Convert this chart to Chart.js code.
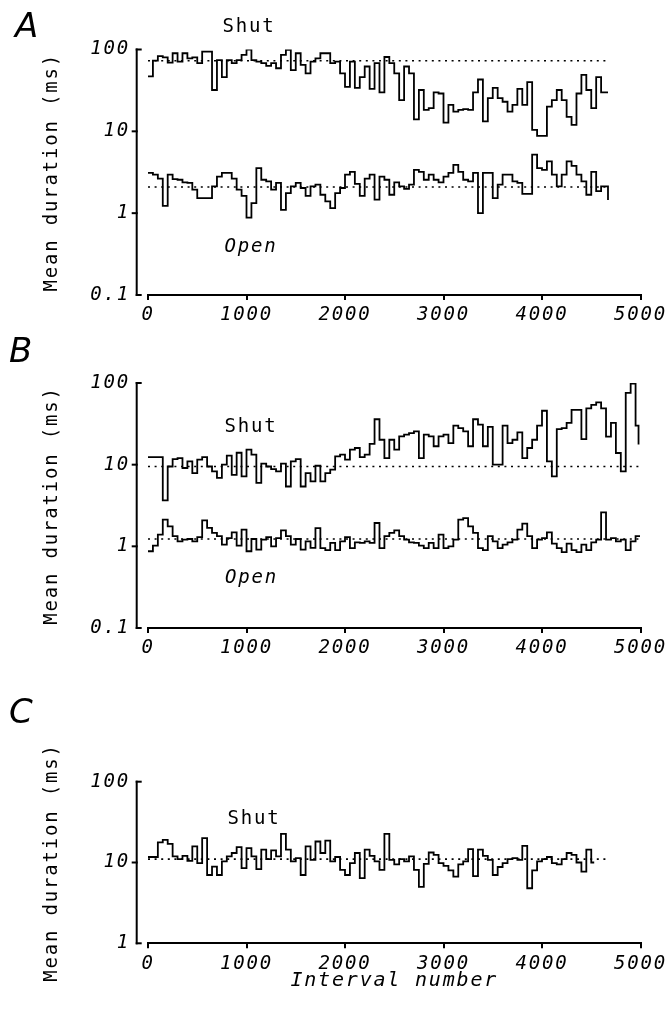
<!DOCTYPE html>
<html><head><meta charset="utf-8">
<script src="https://cdn.jsdelivr.net/npm/chart.js@4"></script>
<style>
html,body{margin:0;padding:0;background:#fff;}
#wrap{position:relative;width:671px;height:1016px;overflow:hidden;background:#fff;}
.panel{position:absolute;left:0;width:671px;}
</style></head><body>
<div id="wrap">
  <div class="panel" style="top:0;height:335px"><canvas id="cA"></canvas></div>
  <div class="panel" style="top:335px;height:335px"><canvas id="cB"></canvas></div>
  <div class="panel" style="top:670px;height:346px"><canvas id="cC"></canvas></div>
</div>
<script>
// ---------------- data ----------------
const BIN = 50;                        // intervals per plotted mean
const xTicks = [0, 1000, 2000, 3000, 4000, 5000];
const yTicksAB = [0.1, 1, 10, 100];
const yTicksC = [1, 10, 100];

// Panel A
const aShut = [47, 73, 83, 80, 69, 90, 71, 90, 78, 80,
  68, 94, 94, 32, 74, 46, 74, 68, 74, 86,
  100, 74, 71, 68, 63, 68, 59, 86, 99, 56,
  90, 65, 51, 71, 78, 90, 90, 68, 71, 51,
  35, 71, 34, 46, 62, 33, 68, 30, 81, 68,
  51, 24, 62, 51, 14, 32, 18.3, 19.2, 30, 29,
  12.8, 21, 17.4, 18.3, 18.7, 18.3, 30, 43, 13.2, 25.4,
  34, 25.4, 23, 17.4, 21, 33, 21, 40, 10.4, 8.8,
  8.8, 20, 24, 32, 24, 15, 12, 29, 49, 32,
  19.2, 46, 30];
const aShutEnd = 4670;
const aOpen = [3.1, 2.95, 2.65, 1.23, 2.95, 2.6, 2.56, 2.38, 2.35, 1.94,
  1.53, 1.53, 1.53, 2.13, 2.8, 3.1, 3.1, 2.65, 1.94, 1.63,
  0.88, 1.33, 3.56, 2.56, 2.45, 1.94, 2.35, 1.1, 1.76, 2.13,
  2.35, 2.03, 1.63, 2.13, 2.23, 1.68, 1.39, 1.15, 1.76, 2.03,
  2.95, 3.2, 2.28, 1.63, 2.65, 2.95, 1.46, 2.8, 2.56, 1.68,
  2.38, 2.13, 1.98, 2.23, 3.39, 3.2, 2.56, 2.95, 2.56, 2.38,
  2.8, 3.1, 3.9, 3.2, 2.56, 2.45, 3.1, 1.0, 3.1, 3.1,
  1.53, 2.23, 2.95, 2.95, 2.45, 2.35, 1.72, 1.72, 5.2, 3.56,
  3.39, 4.3, 2.95, 2.13, 2.95, 4.3, 3.78, 2.95, 2.45, 1.68,
  3.2, 1.86, 2.13];
const aOpenEnd = 4670, aOpenLast = 1.45;
const aShutMean = 73, aOpenMean = 2.09;
const aShutMeanEnd = 4650, aOpenMeanEnd = 4670;

// Panel B
const bShut = [12.4, 12.4, 12.4, 3.66, 9.5, 11.7, 12, 9.1, 11, 7.9,
  11.5, 12.4, 9.5, 8.3, 6.9, 10, 12.9, 7.5, 14, 7.2,
  15.3, 13.3, 6, 10.3, 9.5, 8.8, 8.3, 10.3, 5.4, 11,
  11.7, 5.4, 7.9,
  6.25, 9.7, 6.25, 7.9, 8.7, 12.6, 13.3, 11.5, 15.3, 16,
  12.4, 13.3, 18, 36, 20.2, 12, 20.2, 15.3, 22.2, 23.3,
  24.4, 25.6, 12, 23.3, 22.2, 16.8, 22.2, 23.3, 18.4, 30,
  28, 25.6, 16.8,
  36, 31, 16.8, 29, 10, 10, 30, 18.4, 20.2, 24.8,
  12, 16, 20.2, 30, 45.7, 11, 7.2, 27.3, 28, 32.4,
  47, 47, 20.6, 49, 54, 58, 49, 22, 32.4, 13.9,
  8.3, 75.6, 98, 30];
const bShutEnd = 4980, bShutLast = 17.6;
const bOpen = [0.87, 1.02, 1.39, 2.12, 1.76, 1.33, 1.15, 1.21, 1.23, 1.15,
  1.30, 2.08, 1.68, 1.46, 1.33, 1.05, 1.26, 1.48, 1.02, 1.6,
  0.87, 1.23, 0.91, 1.21, 1.30, 1.0, 1.26, 1.57, 1.33, 1.05,
  1.23, 0.91, 1.15,
  0.96, 1.67, 0.95, 0.9, 1.1, 0.9, 1.15, 1.3, 0.95, 1.12,
  1.1, 1.15, 1.1, 1.93, 0.95, 1.33, 1.46, 1.57, 1.33, 1.21,
  1.12, 1.1, 1.02, 0.95, 1.1, 0.95, 1.39, 0.95, 1.0, 1.21,
  2.12, 2.22, 1.76,
  1.46, 0.95, 0.9, 1.33, 1.15, 0.95, 1.05, 1.12, 1.21, 1.6,
  1.9, 1.33, 0.95, 1.21, 1.26, 1.48, 1.08, 0.95, 0.85, 1.08,
  0.9, 0.85, 1.05, 0.9, 1.12, 1.21, 2.6, 1.21, 1.26, 1.15,
  1.21, 0.9, 1.15, 1.33];
const bOpenEnd = 4995;
const bShutMean = 9.5, bOpenMean = 1.23;
const bMeanEnd = 5000;

// Panel C
const cShut = [11.7, 11.7, 17.7, 19.1, 17, 11.9, 11, 12.1, 10.5, 15.8,
  9.8, 20, 7.0, 8.9, 7.0, 10.3, 11.9, 13.1, 15.5, 8.5,
  15.1, 11.9, 8.3, 14.4, 11, 14.1, 11.9, 22.6, 14.4, 10.3,
  11.3, 7.0, 15.8, 10.8, 18.2, 13.1, 18.7, 10.3, 11.7, 8.1,
  7.0, 9.8, 13.1, 6.4, 14.4,
  12.1, 10.3, 8.1, 22.6, 10.8, 9.5, 11, 10.3, 11.9, 8.1,
  5.0, 9.6, 13.3, 12.4, 9.8, 9.1, 8.0, 6.7, 9.5, 10.3,
  14.6, 6.8, 14.4, 12.1, 10.8, 7.0, 8.8, 9.8, 11, 11.3,
  10.8, 16.1, 4.8, 8, 10.3, 11, 11.7, 9.8, 9.5, 11,
  13.1, 12.4, 10, 7.7, 14.4, 10];
const cShutEnd = 4530;
const cShutMean = 11, cMeanEnd = 4650;

// ---------------- drawing ----------------
const MONO = '"DejaVu Sans Mono", "Liberation Mono", monospace';
const SPACING = '1.8px';
const FS = 19;

function steps(vals, end, endVal) {
  const pts = vals.map((v, i) => ({x: i * BIN, y: v}));
  pts.push({x: end, y: endVal !== undefined ? endVal : vals[vals.length - 1]});
  return pts;
}
function meanLine(m, end) { return [{x: 0, y: m}, {x: end, y: m}]; }

function traceDs(data) {
  return {data, borderColor: '#000', borderWidth: 1.8, pointRadius: 0, stepped: true,
    fill: false, tension: 0, borderJoinStyle: 'miter', borderCapStyle: 'butt'};
}
function dotDs(data) {
  return {data, borderColor: '#000', borderWidth: 1.6, pointRadius: 0, borderDash: [2, 4.6],
    fill: false, tension: 0, borderCapStyle: 'butt'};
}

function makePanel(id, cfg) {
  const decor = {
    id: 'decor_' + id,
    beforeLayout(chart) { chart.ctx.letterSpacing = SPACING; },
    beforeDraw(chart) { chart.ctx.letterSpacing = SPACING; },
    afterDraw(chart) {
      const {ctx, chartArea, scales} = chart;
      const ys = scales.y, xs = scales.x;
      ctx.save();
      ctx.strokeStyle = '#000'; ctx.lineWidth = 2; ctx.lineCap = 'butt';
      const ax = chartArea.left - 11.3;
      const yTop = ys.getPixelForValue(cfg.yMax), yBot = ys.getPixelForValue(cfg.yMin);
      ctx.beginPath(); ctx.moveTo(ax, yTop - 1); ctx.lineTo(ax, yBot + 1); ctx.stroke();
      cfg.yTicks.forEach(v => {
        const py = ys.getPixelForValue(v);
        ctx.beginPath();
        if (v === cfg.yMax || v === cfg.yMin) { ctx.moveTo(ax - 1, py); ctx.lineTo(ax + 5, py); }
        else { ctx.moveTo(ax - 5, py); ctx.lineTo(ax + 1, py); }
        ctx.stroke();
      });
      ctx.fillStyle = '#000'; ctx.textAlign = 'center'; ctx.textBaseline = 'middle';
      ctx.letterSpacing = SPACING;
      cfg.labels.forEach(l => {
        ctx.font = (l.italic ? 'italic ' : '') + FS + 'px ' + MONO;
        ctx.fillText(l.text, xs.getPixelForValue(l.x) + 1, ys.getPixelForValue(l.y));
      });
      ctx.letterSpacing = '0px';
      ctx.font = 'italic 200 34px "DejaVu Sans", sans-serif';
      ctx.textAlign = 'left'; ctx.textBaseline = 'alphabetic';
      ctx.fillText(cfg.letter, cfg.letterPos[0], cfg.letterPos[1]);
      ctx.restore();
    }
  };
  const xScale = {
    type: 'linear', min: 0, max: 5000,
    afterBuildTicks: s => { s.ticks = xTicks.map(v => ({value: v})); },
    afterFit: s => { s.height = cfg.xAxisHeight; },
    ticks: {color: '#000', autoSkip: false, maxRotation: 0, padding: 4,
      font: {family: MONO, size: FS, style: 'italic'}, callback: v => String(v)},
    grid: {display: true, drawOnChartArea: false, drawTicks: true, tickLength: 5, color: '#000', lineWidth: 2},
    border: {display: true, color: '#000', width: 2},
    title: cfg.xTitle ? {display: true, text: cfg.xTitle, color: '#000',
      font: {family: MONO, size: 20, style: 'italic'}, padding: {top: 0, bottom: 23}} : {display: false}
  };
  const yScale = {
    type: 'logarithmic', min: cfg.yMin, max: cfg.yMax,
    afterBuildTicks: s => { s.ticks = cfg.yTicks.map(v => ({value: v})); },
    afterFit: s => { s.width = 148; },
    ticks: {color: '#000', autoSkip: false, padding: 18,
      font: {family: MONO, size: FS, style: 'italic'}, callback: v => String(v)},
    grid: {display: false, drawTicks: false},
    border: {display: false},
    title: {display: true, text: 'Mean duration (ms)', color: '#000',
      font: {family: MONO, size: FS}, padding: {top: 40.5, bottom: 0}}
  };
  return new Chart(document.getElementById(id), {
    type: 'line',
    data: {datasets: cfg.datasets},
    options: {
      responsive: true, maintainAspectRatio: false, animation: false, events: [],
      layout: {padding: {top: cfg.areaTop, left: 0, right: 30.5, bottom: 0}},
      plugins: {legend: {display: false}, tooltip: {enabled: false}, title: {display: false}},
      scales: {x: xScale, y: yScale}
    },
    plugins: [decor]
  });
}

makePanel('cA', {
  yMin: 0.1, yMax: 100, yTicks: yTicksAB, areaTop: 49.5, xAxisHeight: 40,
  letter: 'A', letterPos: [15, 37],
  labels: [{text: 'Shut', x: 1015, y: 188}, {text: 'Open', x: 1035, y: 0.39, italic: true}],
  datasets: [
    dotDs(meanLine(aShutMean, aShutMeanEnd)), dotDs(meanLine(aOpenMean, aOpenMeanEnd)),
    traceDs(steps(aShut, aShutEnd)), traceDs(steps(aOpen, aOpenEnd, aOpenLast))
  ]
});
makePanel('cB', {
  yMin: 0.1, yMax: 100, yTicks: yTicksAB, areaTop: 48, xAxisHeight: 42,
  letter: 'B', letterPos: [9, 27],
  labels: [{text: 'Shut', x: 1035, y: 29}, {text: 'Open', x: 1040, y: 0.41, italic: true}],
  datasets: [
    dotDs(meanLine(bShutMean, bMeanEnd)), dotDs(meanLine(bOpenMean, bMeanEnd)),
    traceDs(steps(bShut, bShutEnd, bShutLast)), traceDs(steps(bOpen, bOpenEnd))
  ]
});
makePanel('cC', {
  yMin: 1, yMax: 100, yTicks: yTicksC, areaTop: 111.7, xAxisHeight: 72.7,
  letter: 'C', letterPos: [9, 53], xTitle: 'Interval number',
  labels: [{text: 'Shut', x: 1066, y: 34}],
  datasets: [
    dotDs(meanLine(cShutMean, cMeanEnd)),
    traceDs(steps(cShut, cShutEnd))
  ]
});
</script>
</body></html>
